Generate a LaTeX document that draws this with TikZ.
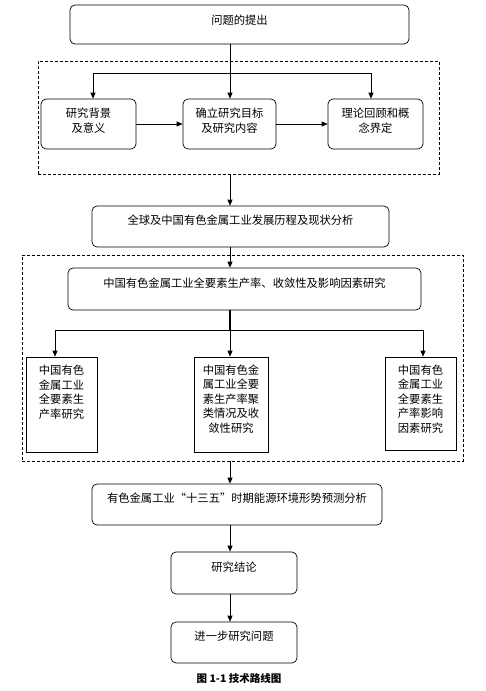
\documentclass[tikz,border=0pt]{standalone}
\usepackage{fontspec}
\setmainfont{Noto Sans CJK SC}
\usetikzlibrary{arrows.meta}
\tikzset{
  rbox/.style={draw, rounded corners=5pt, line width=0.7pt, inner sep=0pt},
  sbox/.style={draw, line width=0.7pt, inner sep=0pt},
  dbox/.style={draw, line width=0.8pt, dash pattern=on 3pt off 2pt, inner sep=0pt},
  txt/.style={inner sep=0pt, align=center, font=\fontsize{11.3}{14.5}\selectfont},
  arr/.style={-{Triangle[length=6pt,width=5pt]}, line width=0.7pt},
  ln/.style={line width=0.7pt}
}
\begin{document}
\begin{tikzpicture}[x=1pt,y=-1pt]
\useasboundingbox[fill=white] (0,0) rectangle (486,691);
% boxes
\node[rbox, minimum width=339, minimum height=39] (q) at (239.5,24.5) {};
\node[txt] (qt) at (239.5,20) {问题的提出};
\node[dbox, minimum width=401, minimum height=113] (g1) at (238.5,117.5) {};
\node[rbox, minimum width=95, minimum height=50] (A) at (88.5,124) {};
\node[txt] (At) at (88.5,120.5) {研究背景\\及意义};
\node[rbox, minimum width=93, minimum height=50] (B) at (229.5,124) {};
\node[txt] (Bt) at (229.5,120.5) {确立研究目标\\及研究内容};
\node[rbox, minimum width=95, minimum height=50] (C) at (375.5,124) {};
\node[txt] (Ct) at (375.5,120.5) {理论回顾和概\\念界定};
\node[rbox, minimum width=297, minimum height=41] (D) at (240.5,226.5) {};
\node[txt] (Dt) at (240.5,220) {全球及中国有色金属工业发展历程及现状分析};
\node[dbox, minimum width=441, minimum height=206] (g2) at (242.5,358) {};
\node[rbox, minimum width=353, minimum height=42] (E) at (244.5,289) {};
\node[txt] (Et) at (244.5,283) {中国有色金属工业全要素生产率、收敛性及影响因素研究};
\node[sbox, minimum width=71, minimum height=95] (F) at (61.5,404.5) {};
\node[txt] (Ft) at (61.5,392) {中国有色\\金属工业\\全要素生\\产率研究};
\node[sbox, minimum width=74, minimum height=95] (G) at (231,404.5) {};
\node[txt] (Gt) at (231,399) {中国有色金\\属工业全要\\素生产率聚\\类情况及收\\敛性研究};
\node[sbox, minimum width=71, minimum height=93] (H) at (420.5,403.5) {};
\node[txt] (Ht) at (420.5,399) {中国有色\\金属工业\\全要素生\\产率影响\\因素研究};
\node[rbox, minimum width=290, minimum height=41] (I) at (237,504.5) {};
\node[txt] (It) at (237,498) {有色金属工业“十三五”时期能源环境形势预测分析};
\node[rbox, minimum width=126, minimum height=42] (J) at (234,573) {};
\node[txt] (Jt) at (234,567) {研究结论};
\node[rbox, minimum width=126, minimum height=41] (K) at (234,642.5) {};
\node[txt] (Kt) at (234,636) {进一步研究问题};
\node[inner sep=0pt, font=\fontsize{10.5}{12}\selectfont\bfseries] (cap) at (239,678) {图 1-1 技术路线图};
% coordinates
\coordinate (ax) at (230,0);
\coordinate (ja) at (93,73);
\coordinate (jc) at (371,73);
\coordinate (j2) at (230,330);
\coordinate (jf) at (55,330);
\coordinate (jh) at (423,330);
% connectors
\draw[arr] (q.south -| ax) -- (B.north -| ax);
\draw[ln] (ja) -- (jc);
\draw[arr] (ja) -- (ja |- A.north);
\draw[arr] (jc) -- (jc |- C.north);
\draw[arr] (A.east) -- (B.west);
\draw[arr] (B.east) -- (C.west);
\draw[arr] (g1.south -| ax) -- (D.north -| ax);
\draw[arr] (D.south -| ax) -- (E.north -| ax);
\draw[line width=2.6pt] (E.south -| ax) -- (j2);
\draw[ln] (jf) -- (jh);
\draw[arr] (j2) -- (G.north -| ax);
\draw[arr] (jf) -- (jf |- F.north);
\draw[arr] (jh) -- (jh |- H.north);
\draw[arr] (g2.south -| ax) -- (I.north -| ax);
\draw[arr] (I.south -| ax) -- (J.north -| ax);
\draw[arr] (J.south -| ax) -- (K.north -| ax);
\end{tikzpicture}
\end{document}
